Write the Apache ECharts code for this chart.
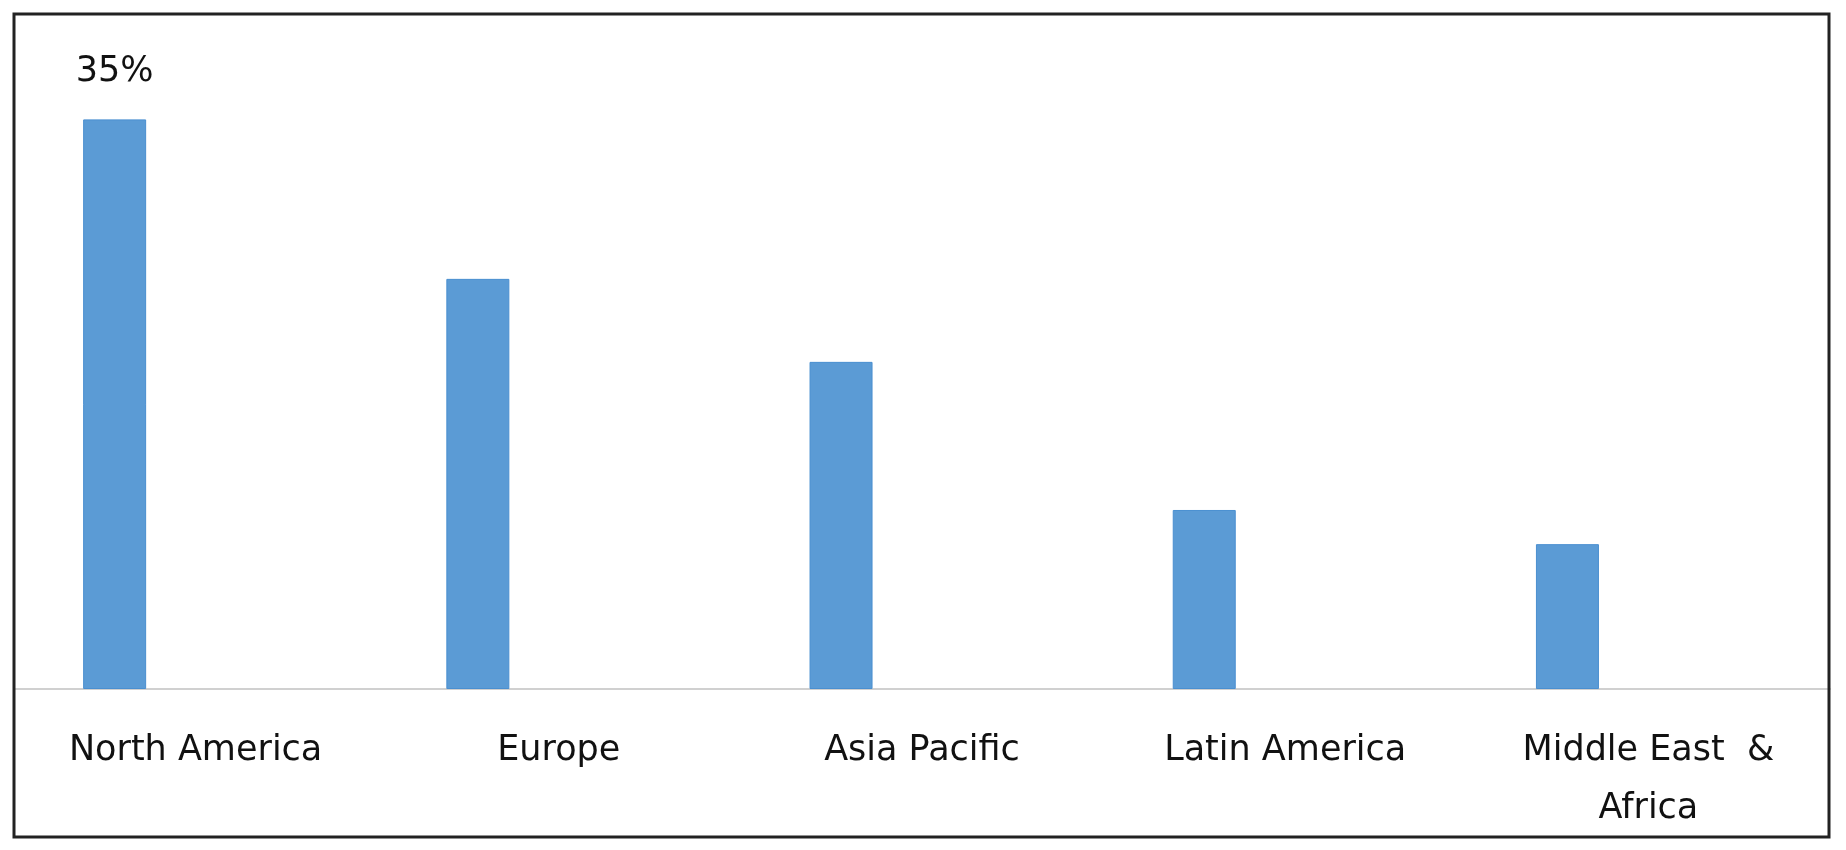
<!DOCTYPE html>
<html>
<head>
    <meta charset="utf-8">
    <script src="https://cdn.jsdelivr.net/npm/echarts@6/dist/echarts.min.js"></script>
    <style>
        html, body { margin: 0; padding: 0; background: #fff; }
    </style>
</head>
<body>
<div id="main" style="position: absolute; left: 0; right: 0; bottom: 0; top: 0"></div>
<script type="text/javascript">
    // regions and their share (%)
    var regions = ['North America', 'Europe', 'Asia Pacific', 'Latin America', 'Middle East  &\nAfrica'];
    var share = [35, 25.2, 20.1, 11, 8.9];
    var empty = [null, null, null, null, null];

    var myChart = echarts.init(document.getElementById('main'));

    var option = {
        animation: false,
        backgroundColor: '#fff',
        textStyle: { fontFamily: 'DejaVu Sans' },
        grid: { left: 14, right: 16, top: 38, bottom: 161 },
        graphic: [{
            type: 'rect',
            shape: { x: 14, y: 14, width: 1815, height: 823 },
            style: { fill: 'none', stroke: '#222', lineWidth: 3 },
            z: 100
        }],
        xAxis: {
            type: 'category',
            data: regions,
            axisLine: { lineStyle: { color: '#d0d0d0', width: 2 } },
            axisTick: { show: false },
            axisLabel: {
                color: '#111',
                fontSize: 35,
                lineHeight: 58,
                margin: 33,
                interval: 0
            }
        },
        yAxis: {
            type: 'value',
            min: 0,
            max: 40,
            show: false,
            splitLine: { show: false }
        },
        series: [{
            type: 'bar',
            data: share,
            barWidth: 63,
            barGap: '157%',
            itemStyle: { color: '#5b9bd5', borderColor: '#4a8fd0', borderWidth: 1 },
            label: {
                show: true,
                position: 'top',
                distance: 30,
                color: '#111',
                fontSize: 35,
                formatter: function (p) {
                    return p.dataIndex === 0 ? p.value + '%' : '';
                }
            }
        }, {
            type: 'bar',
            data: empty,
            barWidth: 63
        }]
    };

    myChart.setOption(option);
</script>
</body>
</html>
